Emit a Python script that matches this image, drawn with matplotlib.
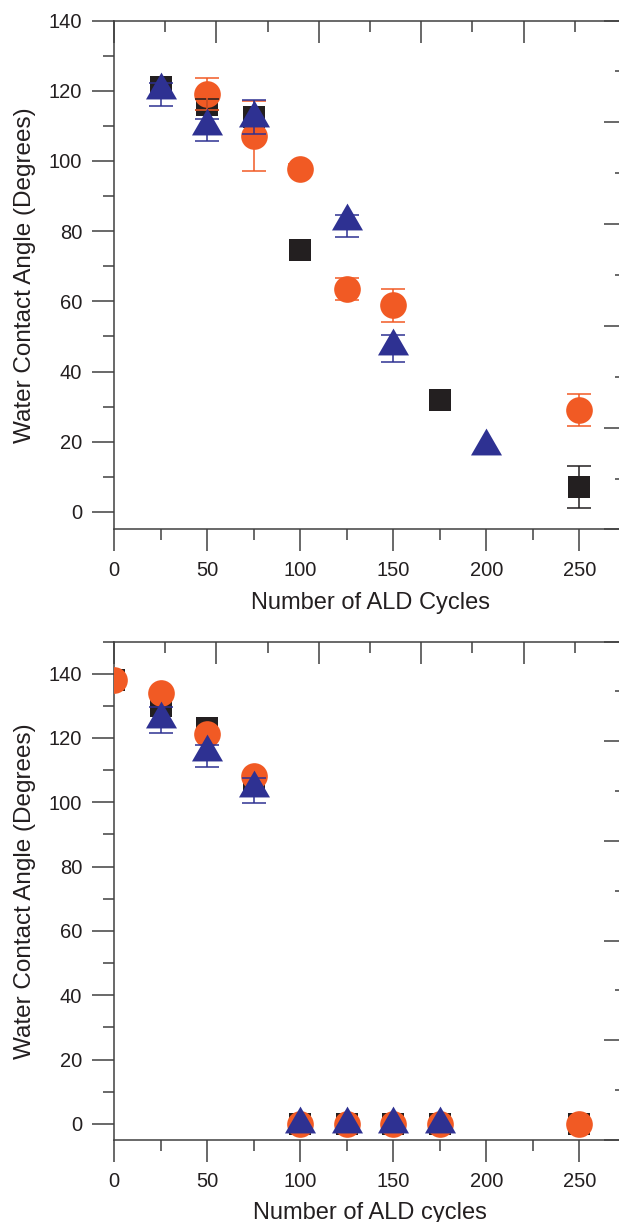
import numpy as np
import matplotlib
matplotlib.use("Agg")
import matplotlib.pyplot as plt
from matplotlib.ticker import MultipleLocator

plt.rcParams['font.family'] = ['Liberation Sans', 'DejaVu Sans']

# ---- data ----
# upper panel
top_sq_x = [25, 50, 75, 100, 175, 250]
top_sq_y = [121, 116, 112.6, 74.5, 32, 7]
top_sq_err = [0, 1.5, 0, 0, 0, 6]

top_ci_x = [50, 75, 100, 125, 150, 250]
top_ci_y = [119, 107, 97.8, 63.6, 58.9, 29]
top_ci_err = [4.5, 10, 1.2, 3.1, 4.7, 4.6]

top_tr_x = [25, 50, 75, 125, 150, 200]
top_tr_y = [120.3, 110, 112.3, 82.8, 47.2, 18.8]
top_tr_lo = [4.6, 4.3, 4.6, 4.6, 4.4, 0]
top_tr_hi = [1.9, 2.0, 5.1, 1.7, 3.2, 0]

# lower panel
bot_sq_x = [0, 25, 50, 75, 100, 125, 150, 175, 250]
bot_sq_y = [138, 130, 123, 105.1, 0, 0, 0, 0, 0]
bot_sq_err = [0, 0, 0, 0, 0, 0, 0, 0, 0]

bot_ci_x = [0, 25, 50, 75, 100, 125, 150, 175, 250]
bot_ci_y = [138, 134, 121.2, 108.1, 0, 0, 0, 0, 0]
bot_ci_err = [0, 0, 0, 0, 0, 0, 0, 0, 0]

bot_tr_x = [25, 50, 75, 100, 125, 150, 175]
bot_tr_y = [126, 115.5, 104.5, 0, 0, 0, 0]
bot_tr_lo = [4.5, 4.6, 4.7, 0, 0, 0, 0]
bot_tr_hi = [3.6, 2.4, 3.1, 0, 0, 0, 0]

SQ_C = '#231f20'
CI_C = '#f15a24'
TR_C = '#2e3192'
AX_C = '#404040'
TXT_C = '#231f20'

# equilateral triangle centred on its centroid
TRI = [(-1, -0.577), (1, -0.577), (0, 1.155)]


def draw_series(ax, x, y, err_lo, err_hi, color, marker, ms, z):
    ax.plot(x, y, ls='none', marker=marker, ms=ms, color=color,
            mec=color, mew=0, zorder=z)
    x = np.asarray(x, float)
    y = np.asarray(y, float)
    lo = np.asarray(err_lo, float)
    hi = np.asarray(err_hi, float)
    m = (lo > 0) | (hi > 0)
    if m.any():
        # error bars sit above squares/circles but under the triangles
        ax.errorbar(x[m], y[m], yerr=[lo[m], hi[m]], fmt='none', ecolor=color,
                    elinewidth=1.1, capsize=8.3, capthick=1.1, zorder=4.5)


def style_axes(ax, ylim, xlabel):
    ax.set_xlim(0, 275)
    ax.set_ylim(*ylim)
    ax.xaxis.set_major_locator(MultipleLocator(50))
    ax.xaxis.set_minor_locator(MultipleLocator(25))
    ax.yaxis.set_major_locator(MultipleLocator(20))
    ax.yaxis.set_minor_locator(MultipleLocator(10))
    ax.tick_params(which='major', direction='out', length=16, width=1.1,
                   color=AX_C, labelsize=14.5, labelcolor=TXT_C, pad=7)
    ax.tick_params(which='minor', direction='out', length=8, width=1.1,
                   color=AX_C)
    for s in ax.spines.values():
        s.set_color(AX_C)
        s.set_linewidth(1.1)
    ax.set_xlabel(xlabel, fontsize=17, color=TXT_C, labelpad=8)
    ax.set_ylabel('Water Contact Angle (Degrees)', fontsize=17.5,
                  color=TXT_C, labelpad=9)

    # mirror axes on top / right with their own spacing
    axt = ax.twiny()
    axt.set_xlim(0, 5)
    axt.xaxis.set_major_locator(MultipleLocator(1))
    axt.xaxis.set_minor_locator(MultipleLocator(0.5))
    axt.tick_params(axis='x', which='major', direction='in', length=16,
                    width=1.1, color=AX_C, labeltop=False)
    axt.tick_params(axis='x', which='minor', direction='in', length=8,
                    width=1.1, color=AX_C)
    axr = ax.twinx()
    axr.set_ylim(0, 5)
    axr.yaxis.set_major_locator(MultipleLocator(1))
    axr.yaxis.set_minor_locator(MultipleLocator(0.5))
    axr.tick_params(axis='y', which='major', direction='in', length=16,
                    width=1.1, color=AX_C, labelright=False)
    axr.tick_params(axis='y', which='minor', direction='in', length=8,
                    width=1.1, color=AX_C)
    for a in (axt, axr):
        for s in a.spines.values():
            s.set_visible(False)


fig = plt.figure(figsize=(6.19, 12.22), dpi=100)
left = 0.1842
width = 1.0113 - left

ax1 = fig.add_axes([left, 0.5667, width, 0.98322 - 0.5667])
draw_series(ax1, top_sq_x, top_sq_y, top_sq_err, top_sq_err, SQ_C, 's', 16.3, 3)
draw_series(ax1, top_ci_x, top_ci_y, top_ci_err, top_ci_err, CI_C, 'o', 19.2, 4)
draw_series(ax1, top_tr_x, top_tr_y, top_tr_lo, top_tr_hi, TR_C, TRI, 25.8, 5)
style_axes(ax1, (-5, 140), 'Number of ALD Cycles')

ax2 = fig.add_axes([left, 0.0671, width, 0.47504 - 0.0671])
draw_series(ax2, bot_sq_x, bot_sq_y, bot_sq_err, bot_sq_err, SQ_C, 's', 16.3, 3)
draw_series(ax2, bot_ci_x, bot_ci_y, bot_ci_err, bot_ci_err, CI_C, 'o', 19.2, 4)
draw_series(ax2, bot_tr_x, bot_tr_y, bot_tr_lo, bot_tr_hi, TR_C, TRI, 25.8, 5)
style_axes(ax2, (-5, 150), 'Number of ALD cycles')

fig.savefig('out.png', dpi=100)
